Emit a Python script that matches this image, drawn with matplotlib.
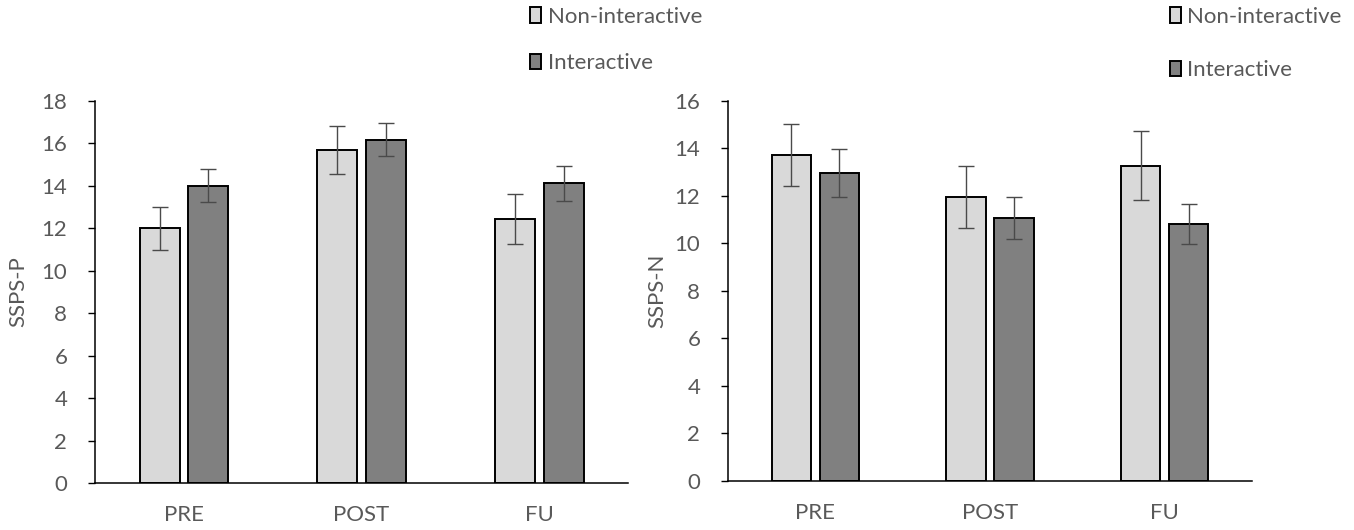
import matplotlib.pyplot as plt
import numpy as np

# data
phases = ["PRE", "POST", "FU"]
groups = ["Non-interactive", "Interactive"]

sspsp_non = [12.0, 15.68, 12.45]
sspsp_non_err = [1.0, 1.13, 1.19]
sspsp_int = [14.0, 16.17, 14.12]
sspsp_int_err = [0.78, 0.78, 0.81]

sspsn_non = [13.72, 11.95, 13.27]
sspsn_non_err = [1.3, 1.31, 1.45]
sspsn_int = [12.96, 11.08, 10.83]
sspsn_int_err = [1.0, 0.88, 0.85]

LIGHT = "#d9d9d9"
DARK = "#808080"
TEXT = "#595959"
FS = 16

plt.rcParams['font.family'] = ['Lato', 'DejaVu Sans']


def draw_panel(ax, non, non_err, inter, inter_err, ylabel, ymax, label_x):
    x = np.arange(len(phases))
    w = 0.225
    off = 0.137
    err_kw = dict(ecolor="#4a4a4a", elinewidth=1.0, capsize=6, capthick=1.0)
    ax.bar(x - off, non, w, yerr=non_err, color=LIGHT, edgecolor="black",
           linewidth=1.4, label=groups[0], error_kw=err_kw)
    ax.bar(x + off, inter, w, yerr=inter_err, color=DARK, edgecolor="black",
           linewidth=1.4, label=groups[1], error_kw=err_kw)
    ax.set_xlim(-0.5, len(phases) - 0.5)
    ax.set_ylim(0, ymax)
    ax.set_yticks(range(0, ymax + 1, 2))
    ax.set_xticks(x)
    ax.set_xticklabels(phases)
    ax.spines['top'].set_visible(False)
    ax.spines['right'].set_visible(False)
    ax.spines['left'].set_linewidth(1.1)
    ax.spines['bottom'].set_linewidth(1.1)
    ax.tick_params(axis='y', direction='out', length=5, width=1.0,
                   labelsize=FS, labelcolor=TEXT, pad=15)
    ax.tick_params(axis='x', length=0, labelsize=FS, labelcolor=TEXT, pad=16)
    ax.set_ylabel(ylabel, fontsize=FS, color=TEXT)
    ax.yaxis.set_label_coords(label_x, 0.5)


fig = plt.figure(figsize=(13.54, 5.30), dpi=100)

ax1 = fig.add_axes([0.0702, 0.0887, 0.3937, 0.7207])
draw_panel(ax1, sspsp_non, sspsp_non_err, sspsp_int, sspsp_int_err, "SSPS-P", 18, -0.126)
ax1.legend(loc='upper left', bbox_to_anchor=(0.3765, 1.025), bbox_transform=fig.transFigure,
           frameon=False, fontsize=FS, labelcolor=TEXT, handlelength=0.5,
           handleheight=0.7, handletextpad=0.3, labelspacing=1.2)

ax2 = fig.add_axes([0.5377, 0.0925, 0.387, 0.717])
draw_panel(ax2, sspsn_non, sspsn_non_err, sspsn_int, sspsn_int_err, "SSPS-N", 16, -0.115)
ax2.legend(loc='upper left', bbox_to_anchor=(0.849, 1.025), bbox_transform=fig.transFigure,
           frameon=False, fontsize=FS, labelcolor=TEXT, handlelength=0.5,
           handleheight=0.7, handletextpad=0.3, labelspacing=1.5)

fig.savefig("out.png", dpi=100)
